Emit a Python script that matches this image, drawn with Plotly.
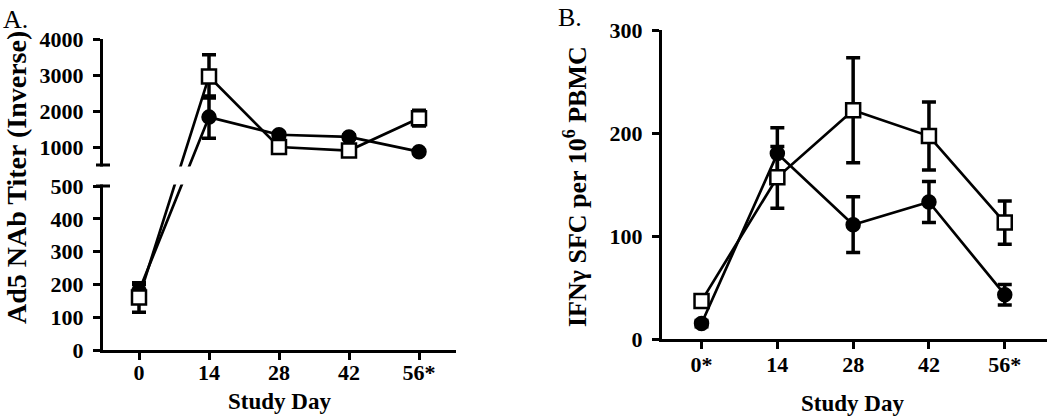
import plotly.graph_objects as go

# ---------------- data ----------------
days = [0, 14, 28, 42, 56]
xlabels_a = ["0", "14", "28", "42", "56*"]
xlabels_b = ["0*", "14", "28", "42", "56*"]

# Panel A: Ad5 NAb titer
a_circle = [180, 1830, 1340, 1280, 870]
a_circle_err = [20, 590, 60, 50, 40]
a_square = [160, 2960, 1000, 900, 1800]
a_square_err = [45, 600, 60, 70, 220]

# Panel B: IFNγ ELISpot
b_circle = [15, 180, 111, 133, 43]
b_circle_err = [3, 25, 27, 20, 10]
b_square = [37, 157, 222, 197, 113]
b_square_err = [6, 30, 51, 33, 21]

a_low_ticks = [0, 100, 200, 300, 400, 500]
a_high_ticks = [1000, 2000, 3000, 4000]
b_ticks = [0, 100, 200, 300]

# ---------------- broken axis transform (panel A) ----------------
BREAK = 500
LOW_SCALE = 164 / 500          # display units per value, lower segment
GAP = 21
HIGH_SCALE = 126 / 3500        # display units per value, upper segment
LOW_TOP = BREAK * LOW_SCALE
HIGH_BOTTOM = LOW_TOP + GAP


def f(v):
    if v <= BREAK:
        return v * LOW_SCALE
    return HIGH_BOTTOM + (v - BREAK) * HIGH_SCALE


A_TOP = f(4000)

FONT = "Liberation Serif"
W, H = 1050, 417

xa_dom = [103 / W, 456 / W]
ya_dom = [(H - 350) / H, (H - 39) / H]
xb_dom = [662 / W, 1047 / W]
yb_dom = [(H - 339) / H, (H - 30) / H]

fig = go.Figure()


def add_series(x, vals, errs, symbol, fill, xaxis, yaxis, transform):
    y = [transform(v) for v in vals]
    up = [transform(v + e) - transform(v) for v, e in zip(vals, errs)]
    dn = [transform(v) - transform(v - e) for v, e in zip(vals, errs)]
    fig.add_trace(go.Scatter(
        x=x, y=y, mode="lines+markers",
        xaxis=xaxis, yaxis=yaxis,
        line=dict(color="black", width=2.7),
        marker=dict(symbol=symbol, size=14 if symbol == "square" else 13,
                    color=fill, line=dict(color="black", width=2.5)),
        error_y=dict(type="data", array=up, arrayminus=dn, symmetric=False,
                     color="black", thickness=3.5, width=7),
        cliponaxis=False,
        showlegend=False,
    ))


ident = lambda v: v
add_series(days, a_circle, a_circle_err, "circle", "black", "x", "y", f)
add_series(days, a_square, a_square_err, "square", "white", "x", "y", f)
add_series(days, b_circle, b_circle_err, "circle", "black", "x2", "y2", ident)
add_series(days, b_square, b_square_err, "square", "white", "x2", "y2", ident)

tickfont = dict(family=FONT, size=22, color="black", weight="bold")
axis_common = dict(showgrid=False, zeroline=False, showline=True, linecolor="black",
                   linewidth=3, ticks="outside", ticklen=7, tickwidth=3,
                   tickcolor="black", tickfont=tickfont, automargin=False)

a_tickvals = [f(v) for v in a_low_ticks + a_high_ticks]
a_ticktext = [str(v) for v in a_low_ticks + a_high_ticks]

fig.update_layout(
    template="none",
    width=W, height=H, margin=dict(l=0, r=0, t=0, b=0, pad=0, autoexpand=False),
    paper_bgcolor="white", plot_bgcolor="white",
    xaxis=dict(domain=xa_dom, range=[-7.2, 63.4], tickvals=days, ticktext=xlabels_a,
               anchor="y", ticklabelstandoff=-6, **axis_common),
    yaxis=dict(domain=ya_dom, range=[0, A_TOP], tickvals=a_tickvals, ticktext=a_ticktext,
               anchor="x", ticklabelstandoff=5, **axis_common),
    xaxis2=dict(domain=xb_dom, range=[-7.3, 63.8], tickvals=days, ticktext=xlabels_b,
                anchor="y2", ticklabelstandoff=-3, **axis_common),
    yaxis2=dict(domain=yb_dom, range=[0, 300], tickvals=b_ticks,
                anchor="x2", ticklabelstandoff=5, **axis_common),
)

# axis break: blank gap and end caps
ax_x = xa_dom[0]
cap = 7 / W
fig.add_shape(type="rect", xref="paper", yref="y", layer="above",
              x0=ax_x - 12 / W, x1=xa_dom[1] + 2 / W, y0=LOW_TOP + 1.6, y1=HIGH_BOTTOM - 1.6,
              fillcolor="white", line=dict(width=0))
for yv in (LOW_TOP, HIGH_BOTTOM):
    fig.add_shape(type="line", xref="paper", yref="y", layer="above",
                  x0=ax_x - cap, x1=ax_x + cap, y0=yv, y1=yv,
                  line=dict(color="black", width=3))

title_font = dict(family=FONT, size=23, color="black", weight="bold")
ann = [
    dict(text="A.", x=1 / W, y=1 - 19 / H, xanchor="left", yanchor="middle",
         font=dict(family=FONT, size=26, color="black")),
    dict(text="B.", x=556 / W, y=1 - 18 / H, xanchor="left", yanchor="middle",
         font=dict(family=FONT, size=26, color="black")),
    dict(text="Ad5 NAb Titer (Inverse)", x=16 / W, y=1 - 178 / H, textangle=-90,
         xanchor="center", yanchor="middle",
         font=dict(family=FONT, size=28, color="black", weight="bold")),
    dict(text="IFNγ SFC per 10<sup>6</sup> PBMC", x=575 / W, y=1 - 187 / H, textangle=-90,
         xanchor="center", yanchor="middle",
         font=dict(family=FONT, size=26, color="black", weight="bold")),
    dict(text="Study Day", x=279 / W, y=1 - 401 / H, xanchor="center", yanchor="middle",
         font=title_font),
    dict(text="Study Day", x=852 / W, y=1 - 403 / H, xanchor="center", yanchor="middle",
         font=title_font),
]
for a in ann:
    fig.add_annotation(xref="paper", yref="paper", showarrow=False, **a)

# remove the default page margin so the figure sits at the window origin
fig.write_html("out.html", config={"displayModeBar": False},
               post_script="document.body.style.margin='0px';")
